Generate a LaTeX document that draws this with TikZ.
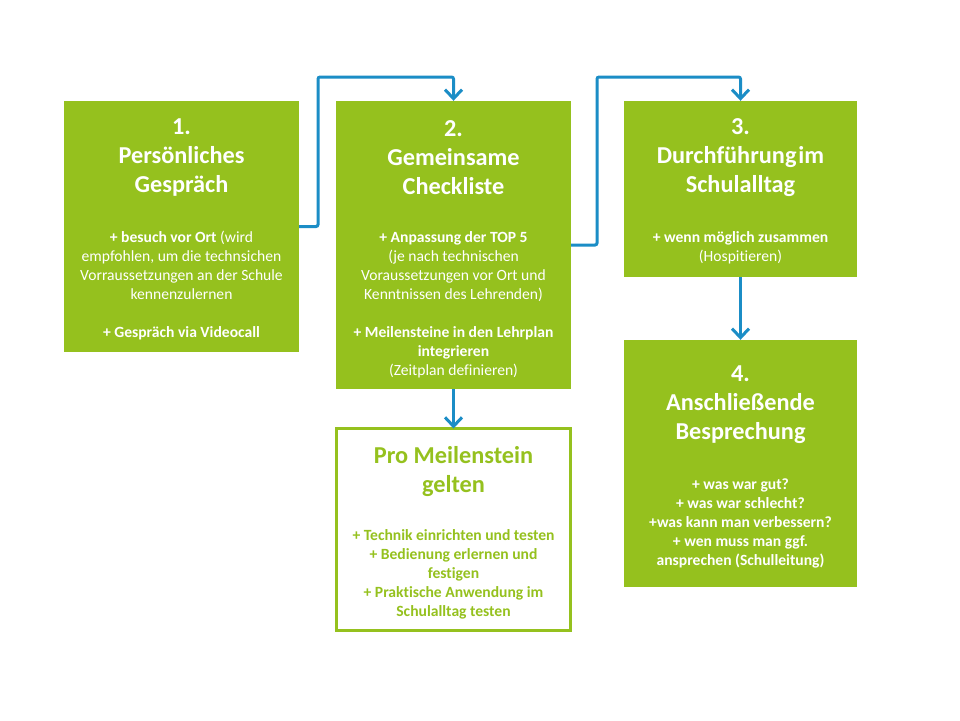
\documentclass[tikz,border=0pt]{standalone}
\usepackage{fontspec}
\setmainfont{Carlito}[Ligatures=NoCommon]
\usetikzlibrary{arrows.meta}
\definecolor{lgreen}{HTML}{95C11E}
\definecolor{lblue}{HTML}{1B8DC6}
\begin{document}
\begin{tikzpicture}[x=1pt,y=-1pt,
  gbox/.style={fill=lgreen,draw=none,inner sep=0pt,minimum width=235pt},
  wbox/.style={fill=white,draw=lgreen,line width=3pt,inner sep=0pt},
  ttl/.style={align=center,inner sep=0pt,font=\fontsize{24.3}{28.8}\selectfont\bfseries},
  bdy/.style={align=center,inner sep=0pt,font=\fontsize{15.6}{19}\selectfont},
  arr/.style={draw=lblue,line width=3pt,rounded corners=2pt,-{Straight Barb[length=9pt,width=17pt]}}]
\useasboundingbox (0,0) rectangle (960,720);
\fill[white] (0,0) rectangle (960,720);
% boxes
\node[gbox,minimum height=251pt] (b1) at (181.5,226.5) {};
\node[gbox,minimum height=288pt] (b2) at (453.5,245) {};
\node[gbox,minimum width=233pt,minimum height=176pt] (b3) at (740.5,189) {};
\node[gbox,minimum width=233pt,minimum height=247pt] (b4) at (740.5,463.5) {};
\node[wbox,minimum width=234pt,minimum height=202pt] (b5) at (453.5,529.5) {};
% titles
\node[ttl,text=white] (t1) at (181.5,157.5) {1.\\Persönliches\\Gespräch};
\node[ttl,text=white] (t2) at (453.5,157.5) {2.\\Gemeinsame\\Checkliste};
\node[ttl,text=white] (t3) at (740.5,157.5) {3.\\Durchführung\hspace{2pt}im\\Schulalltag};
\node[ttl,text=white] (t4) at (740.5,404.5) {4.\\Anschließende\\Besprechung};
\node[ttl,text=lgreen] (t5) at (453.5,471.5) {Pro Meilenstein\\gelten};
% bodies
\node[bdy,text=white] (d1) at (181.5,285.5) {\textbf{+ besuch vor Ort} (wird\\empfohlen, um die technsichen\\Vorraussetzungen an der Schule\\kennenzulernen\\[19pt]\textbf{+ Gespräch via Videocall}};
\node[bdy,text=white] (d2) at (453.5,304.5) {\textbf{+ Anpassung der TOP 5}\\(je nach technischen\\Voraussetzungen vor Ort und\\Kenntnissen des Lehrenden)\\[19pt]\textbf{+ Meilensteine in den Lehrplan}\\\textbf{integrieren}\\(Zeitplan definieren)};
\node[bdy,text=white] (d3) at (740.5,248) {\textbf{+ wenn möglich zusammen}\\(Hospitieren)};
\node[bdy,text=white,font=\fontsize{15.6}{19}\selectfont\bfseries] (d4) at (740.5,523.5) {+ was war gut?\\+ was war schlecht?\\+was kann man verbessern?\\+ wen muss man ggf.\\ansprechen (Schulleitung)};
\node[bdy,text=lgreen,font=\fontsize{15.6}{19}\selectfont\bfseries] (d5) at (453.5,574.5) {+ Technik einrichten und testen\\+ Bedienung erlernen und\\festigen\\+ Praktische Anwendung im\\Schulalltag testen};
% connectors
\coordinate (k1) at (318,77);
\coordinate (k2) at (597,77);
\draw[arr] (b1.east) -| (k1) -| (b2.north);
\draw[arr] (b2.east) -| (k2) -| (b3.north);
\draw[arr] (b3.south) -- (b4.north);
\draw[arr] (b2.south) -- ([yshift=-1.5pt]b5.north);
\end{tikzpicture}
\end{document}
